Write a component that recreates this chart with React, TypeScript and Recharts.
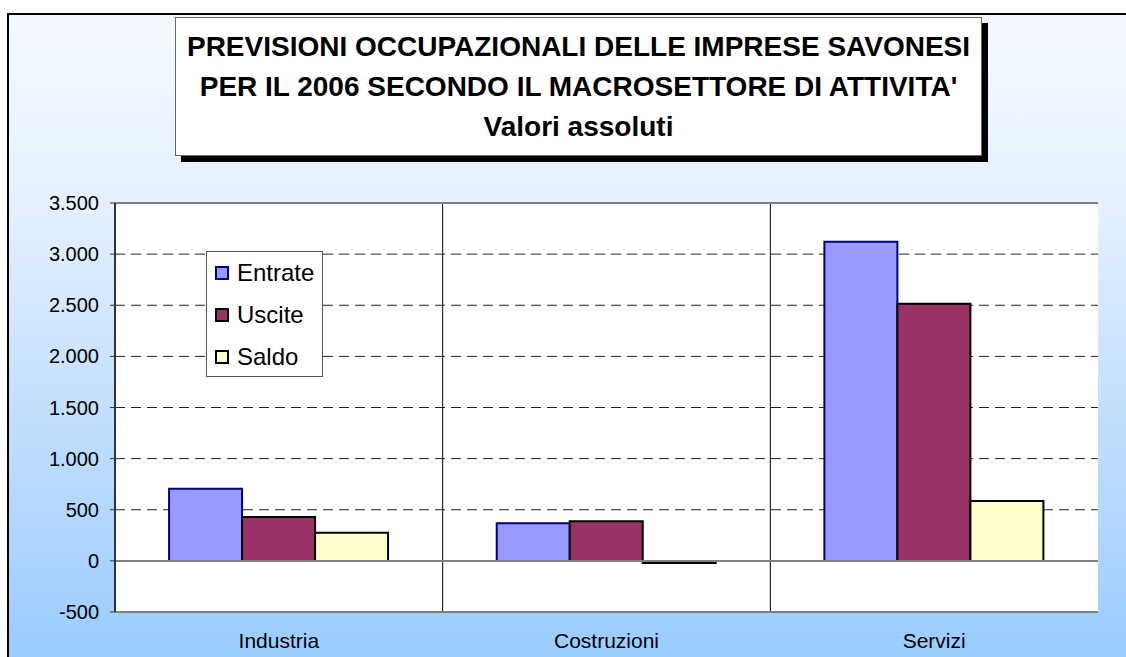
import React from 'react';
import {
  BarChart,
  Bar,
  XAxis,
  YAxis,
  CartesianGrid,
  ReferenceLine,
  Legend,
} from 'recharts';

const categories = ['Industria', 'Costruzioni', 'Servizi'];
const entrate = [705, 368, 3120];
const uscite = [430, 388, 2515];
const saldo = [275, -20, 585];
const yTicks = [-500, 0, 500, 1000, 1500, 2000, 2500, 3000, 3500];
const dashedValues = [500, 1000, 1500, 2000, 2500, 3000];
const titleLines = [
  'PREVISIONI OCCUPAZIONALI DELLE IMPRESE SAVONESI',
  "PER IL 2006 SECONDO IL MACROSETTORE DI ATTIVITA'",
  'Valori assoluti',
];

const SERIES = [
  { key: 'Entrate', fill: '#9999ff', stroke: '#000080' },
  { key: 'Uscite', fill: '#993366', stroke: '#000000' },
  { key: 'Saldo', fill: '#ffffcc', stroke: '#000000' },
];

const FONT = '"Liberation Sans", Arial, sans-serif';

const chartData = categories.map((name, i) => ({
  name,
  Entrate: entrate[i],
  Uscite: uscite[i],
  Saldo: saldo[i],
}));

// italian style thousands separator
const fmt = (v: number) => {
  const s = Math.abs(v)
    .toString()
    .replace(/\B(?=(\d{3})+(?!\d))/g, '.');
  return v < 0 ? '-' + s : s;
};

// vertical lines on the boundaries between categories, from the band scale
const categoryBoundaries = ({ xAxis, offset }: any) => {
  if (xAxis && typeof xAxis.scale === 'function') {
    return categories.slice(1).map((c) => xAxis.scale(c));
  }
  return categories.slice(1).map((_, i) => offset.left + (offset.width * (i + 1)) / categories.length);
};

const LegendBox = ({ payload }: any) => {
  const names = (payload || []).map((p: any) => p.value);
  const items = SERIES.filter((s) => names.length === 0 || names.includes(s.key));
  return (
    <div
      style={{
        boxSizing: 'border-box',
        width: 117,
        height: 126,
        border: '1px solid #555',
        background: '#fff',
        fontFamily: FONT,
      }}
    >
      {items.map((it) => (
        <div key={it.key} style={{ display: 'flex', alignItems: 'center', height: 42 }}>
          <div
            style={{
              boxSizing: 'border-box',
              width: 14,
              height: 14,
              marginLeft: 8,
              marginRight: 8,
              background: it.fill,
              border: `2px solid ${it.stroke}`,
            }}
          />
          <span style={{ fontSize: 24, color: '#000', lineHeight: '24px' }}>{it.key}</span>
        </div>
      ))}
    </div>
  );
};

export default function App() {
  return (
    <div style={{ position: 'absolute', left: 0, top: 0, width: 1126, height: 657, overflow: 'hidden' }}>
      <div
        style={{
          position: 'absolute',
          left: 7,
          top: 13,
          width: 1140,
          height: 680,
          border: '2px solid #000',
          background: 'linear-gradient(#f5faff 0%, #e4f0fe 28%, #c2defe 60%, #99ccff 95%)',
        }}
      />
      <div
        style={{
          position: 'absolute',
          left: 175,
          top: 17,
          width: 807,
          height: 139,
          boxSizing: 'border-box',
          border: '1px solid #666',
          background: '#fff',
          boxShadow: '6px 6px 0 #000',
          paddingTop: 9,
          textAlign: 'center',
          fontFamily: FONT,
          fontWeight: 'bold',
          fontSize: 28,
          lineHeight: '40px',
          color: '#000',
        }}
      >
        {titleLines.map((t) => (
          <div key={t} style={{ whiteSpace: 'nowrap' }}>
            {t}
          </div>
        ))}
      </div>
      <div style={{ position: 'absolute', left: 0, top: 0 }}>
        <BarChart
          width={1126}
          height={657}
          data={chartData}
          margin={{ top: 203, right: 28, bottom: 0, left: 0 }}
          barCategoryGap="16.5%"
          barGap={0}
        >
          <CartesianGrid
            vertical={false}
            horizontalValues={dashedValues}
            strokeDasharray="10 6"
            stroke="#222"
            fill="#fff"
            fillOpacity={1}
          />
          <CartesianGrid
            horizontal={false}
            verticalCoordinatesGenerator={categoryBoundaries}
            stroke="#000"
          />
          <XAxis
            dataKey="name"
            height={45}
            axisLine={{ stroke: '#808080', strokeWidth: 2 }}
            tickLine={false}
            tickSize={0}
            tickMargin={21}
            tick={{ fill: '#000', fontSize: 21, fontFamily: FONT }}
          />
          <YAxis
            width={115}
            domain={[-500, 3500]}
            ticks={yTicks}
            interval={0}
            allowDataOverflow
            tickFormatter={fmt}
            axisLine={{ stroke: '#333', strokeWidth: 2 }}
            tickLine={{ stroke: '#333' }}
            tickSize={5}
            tickMargin={11}
            tick={{ fill: '#000', fontSize: 20, fontFamily: FONT }}
          />
          <YAxis
            yAxisId="border"
            orientation="right"
            width={0}
            domain={[-500, 3500]}
            tick={false}
            tickLine={false}
            axisLine={{ stroke: '#999', strokeWidth: 2 }}
          />
          <ReferenceLine y={0} stroke="#808080" strokeWidth={2} />
          <ReferenceLine y={3500} stroke="#808080" strokeWidth={2} />
          {SERIES.map((s) => (
            <Bar
              key={s.key}
              dataKey={s.key}
              fill={s.fill}
              stroke={s.stroke}
              strokeWidth={2}
              isAnimationActive={false}
            />
          ))}
          <Legend
            layout="vertical"
            align="center"
            verticalAlign="middle"
            content={<LegendBox />}
            wrapperStyle={{ left: 206, top: 251, width: 117, height: 126 }}
          />
        </BarChart>
      </div>
    </div>
  );
}
